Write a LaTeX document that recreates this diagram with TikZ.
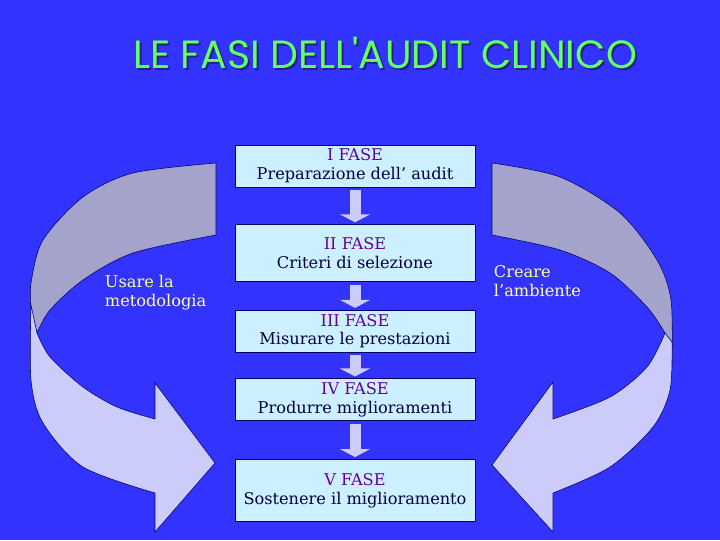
\documentclass[tikz,border=0pt]{standalone}
\usepackage{fontspec}
\setmainfont{DejaVu Serif}
\newfontfamily\titlefont{Poppins}
\usepackage{tikz}
\usetikzlibrary{arrows.meta, positioning}

\definecolor{slideblue}{HTML}{3333FF}
\definecolor{boxfill}{HTML}{CCF0FF}
\definecolor{boxline}{HTML}{000066}
\definecolor{fasecol}{HTML}{660099}
\definecolor{textcol}{HTML}{000040}
\definecolor{titlegreen}{HTML}{66FF66}
\definecolor{titleshade}{HTML}{222288}
\definecolor{sideyellow}{HTML}{FFFF99}
\definecolor{backband}{HTML}{A3A3CC}
\definecolor{frontband}{HTML}{CCCCFA}

\begin{document}
\begin{tikzpicture}[x=0.025cm,y=-0.025cm,
        fasebox/.style={draw=boxline,fill=boxfill,thin,minimum width=6cm,inner sep=0pt,
            align=center,text=textcol,font=\fontsize{11.5}{13.5}\selectfont},
        blockarrow/.style={frontband,line width=0.275cm,-{Triangle[width=0.75cm,length=0.2cm]},
            shorten <=0.075cm,shorten >=0.05cm},
        band/.style={draw=boxline,line width=0.4pt},
        sidelabel/.style={text=sideyellow,align=left,anchor=west,font=\fontsize{11.5}{13.5}\selectfont}]

    \fill[slideblue] (0,0) rectangle (720,540);
    \useasboundingbox (0,0) rectangle (720,540);

    % title
    \node[text=titleshade,font=\titlefont\fontsize{28}{32}\selectfont] (titleshadow) at (387,55) {LE FASI DELL'AUDIT CLINICO};
    \node[text=titlegreen,font=\titlefont\fontsize{28}{32}\selectfont] (title) at (385,53) {LE FASI DELL'AUDIT CLINICO};

    % curved arrows, back part first
    \filldraw[band,fill=backband] (216,163) -- (216,235)
        -- plot[smooth] coordinates {(216,235) (133,253) (83,280) (50,310) (37,333)}
        -- (31,310) -- plot[smooth] coordinates {(31,310) (31,283) (43,240) (83,197) (133,173) (216,163)} -- cycle;
    \filldraw[band,fill=frontband] (31,305)
        -- plot[smooth] coordinates {(31,305) (31,380) (43,423) (83,467) (155,493)}
        -- (155,532) -- (215,463) -- (155,383) -- (155,419)
        -- plot[smooth] coordinates {(155,419) (117,407) (83,387) (50,357) (37,333)} -- cycle;

    \filldraw[band,fill=backband] (492,163) -- (492,235)
        -- plot[smooth] coordinates {(492,235) (560,250) (610,273) (647,307) (665,333)}
        -- (672,363) -- plot[smooth] coordinates {(672,363) (671,300) (657,260) (620,213) (560,177) (492,163)} -- cycle;
    \filldraw[band,fill=frontband] (665,333)
        -- plot[smooth] coordinates {(665,333) (647,367) (610,397) (553,419)}
        -- (553,382) -- (492,465) -- (553,532) -- (553,493)
        -- plot[smooth] coordinates {(553,493) (610,467) (653,427) (670,390) (672,342)} -- cycle;

    % phases
    \node[fasebox,minimum height=1.05cm] (fase1) at (355,166) {\textcolor{fasecol}{I FASE}\\Preparazione dell' audit};
    \node[fasebox,minimum height=1.425cm,below=0.925cm of fase1] (fase2) {\textcolor{fasecol}{II FASE}\\Criteri di selezione};
    \node[fasebox,minimum height=1.05cm,below=0.7cm of fase2] (fase3) {\textcolor{fasecol}{III FASE}\\Misurare le prestazioni};
    \node[fasebox,minimum height=1.05cm,below=0.65cm of fase3] (fase4) {\textcolor{fasecol}{IV FASE}\\Produrre miglioramenti};
    \node[fasebox,minimum height=1.55cm,below=0.95cm of fase4] (fase5) {\textcolor{fasecol}{V FASE}\\Sostenere il miglioramento};

    \draw[blockarrow] (fase1) -- (fase2);
    \draw[blockarrow] (fase2) -- (fase3);
    \draw[blockarrow] (fase3) -- (fase4);
    \draw[blockarrow] (fase4) -- (fase5);

    % side labels
    \node[sidelabel] (metodo) at (100,293) {Usare la\\metodologia};
    \node[sidelabel] (ambiente) at (489,281) {Creare\\l’ambiente};
\end{tikzpicture}
\end{document}
